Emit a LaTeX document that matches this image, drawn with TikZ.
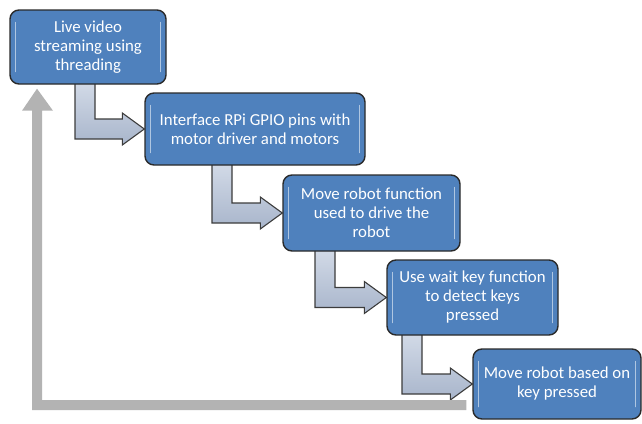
\documentclass[tikz,border=0pt]{standalone}
\usepackage{fontspec}
\setmainfont{Carlito}
\usetikzlibrary{calc,backgrounds}
\definecolor{boxblue}{HTML}{4F81BD}
\definecolor{boxedge}{HTML}{2A2A2A}
\definecolor{arrowtop}{HTML}{D2DAE7}
\definecolor{arrowbot}{HTML}{A8B5CB}
\definecolor{arrowedge}{HTML}{3C3C3C}
\definecolor{loopgray}{HTML}{B3B3B3}
\tikzset{
  stepbox/.style={draw=boxedge, line width=1.4pt, fill=boxblue, rounded corners=9pt,
    text=white, align=center, font=\fontsize{16.8}{19}\selectfont, inner sep=2pt},
  bentarrow/.style={draw=arrowedge, line width=1.1pt, line join=miter,
    top color=arrowtop, bottom color=arrowbot},
  gloss/.style={draw=white, opacity=0.55, line width=1.1pt, line cap=round},
}
% bent arrow: #1 source box, #2 left x of vertical shaft, #3 target box
\newcommand{\bendarrow}[3]{%
  \path[bentarrow] let \p1=(#1.south), \p2=(#3.west) in
    (#2pt,\y1+2pt) -- (#2pt,\y2-10pt) -- (\x2-22pt,\y2-10pt) -- (\x2-22pt,\y2-16pt)
    -- (\x2,\y2) -- (\x2-22pt,\y2+16pt) -- (\x2-22pt,\y2+10pt)
    -- (#2pt+20pt,\y2+10pt) -- (#2pt+20pt,\y1+2pt) -- cycle;}
% inner highlight strokes along left and right edges
\newcommand{\glossy}[1]{%
  \draw[gloss] ([xshift=6pt,yshift=-13pt]#1.north west) -- ([xshift=6pt,yshift=13pt]#1.south west);
  \draw[gloss] ([xshift=-6pt,yshift=-13pt]#1.north east) -- ([xshift=-6pt,yshift=13pt]#1.south east);}
\begin{document}
\begin{tikzpicture}[x=1pt,y=-1pt]
\useasboundingbox (0,0) rectangle (642,423);

\node[stepbox, minimum width=156pt, minimum height=74pt] (b1) at (88,47)
  {Live video\\streaming using\\threading};
\node[stepbox, minimum width=220pt, minimum height=72pt] (b2) at (255,129)
  {Interface RPi GPIO pins with\\motor driver and motors};
\node[stepbox, minimum width=177pt, minimum height=76pt] (b3) at (371.5,213)
  {Move robot function\\used to drive the\\robot};
\node[stepbox, minimum width=171pt, minimum height=75pt] (b4) at (472.5,297.5)
  {Use wait key function\\to detect keys\\pressed};
\node[stepbox, minimum width=168pt, minimum height=70pt] (b5) at (557,384)
  {Move robot based on\\key pressed};

\foreach \b in {b1,b2,b3,b4,b5} {\glossy{\b}}

\begin{scope}[on background layer]
  \bendarrow{b1}{75}{b2}
  \bendarrow{b2}{212}{b3}
  \bendarrow{b3}{315}{b4}
  \bendarrow{b4}{402}{b5}
  % return path from the last step back to the first
  \fill[loopgray] let \p1=(b5.west), \p2=(b1.south) in
    (\x1-6pt,-400pt) -- (42pt,-400pt) -- (42pt,\y2-26pt) -- (53pt,\y2-26pt)
    -- (37pt,\y2-4pt) -- (22pt,\y2-26pt) -- (32pt,\y2-26pt) -- (32pt,-410pt)
    -- (\x1-6pt,-410pt) -- cycle;
\end{scope}
\end{tikzpicture}
\end{document}
